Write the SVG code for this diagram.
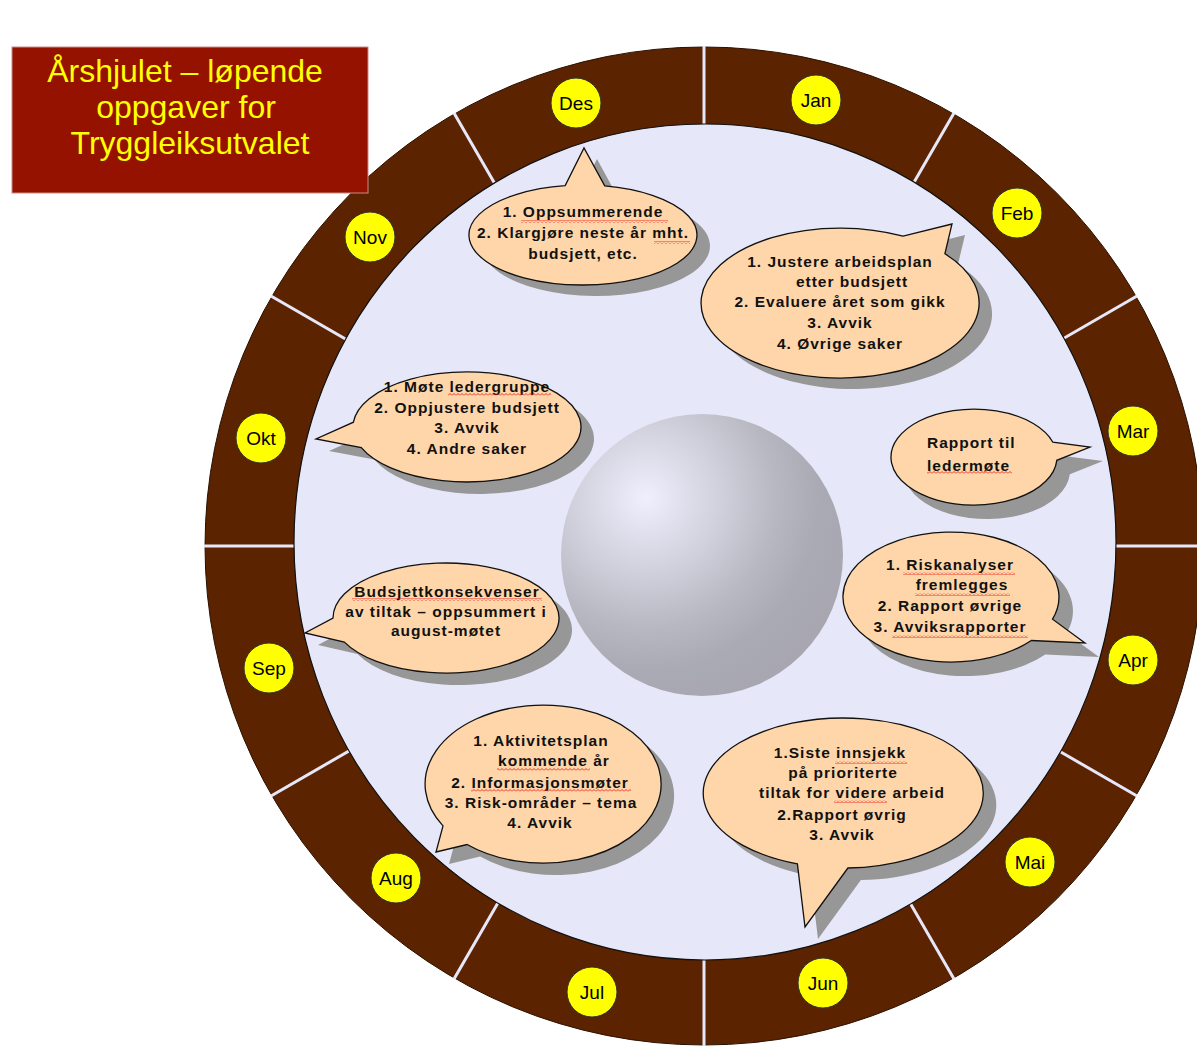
<svg xmlns="http://www.w3.org/2000/svg" width="1197" height="1055" viewBox="0 0 1197 1055">
<style>
.bub{fill:#FFD6A9;stroke:#111;stroke-width:1.3}
.shd{fill:#979797}
.bt{font-family:"Liberation Sans",Arial,sans-serif;font-weight:bold;font-size:15.5px;letter-spacing:1px;fill:#111;text-anchor:middle}
.mc{fill:#FFFF00;stroke:#333;stroke-width:1}
.mt{font-family:"Liberation Sans",Arial,sans-serif;font-size:19px;fill:#000;text-anchor:middle}
.tt{font-family:"Liberation Sans",Arial,sans-serif;font-size:32px;fill:#FFFF00;text-anchor:middle}
.div{stroke:#E6E8FA;stroke-width:3}
.sq{fill:url(#wave)}
</style>
<defs>
<pattern id="wave" width="4" height="3" patternUnits="userSpaceOnUse">
<path d="M0 2.5 L2 0.5 L4 2.5" fill="none" stroke="#E8231A" stroke-width="0.9"/>
</pattern>
<radialGradient id="sph" gradientUnits="userSpaceOnUse" cx="646" cy="498" fx="646" fy="498" r="215">
<stop offset="0" stop-color="#EFEFFD"/>
<stop offset="0.12" stop-color="#E4E4F2"/>
<stop offset="0.35" stop-color="#D0D0DC"/>
<stop offset="0.6" stop-color="#B8B8C3"/>
<stop offset="0.8" stop-color="#AAAAB4"/>
<stop offset="1" stop-color="#A8A7B1"/>
</radialGradient>
<path id="pDes" d="M604.75 185.92 A114 50 0 1 1 565.17 185.61 L584 148 Z"/>
<path id="pFeb" d="M944.9 253.8 A139 75 0 1 1 903.1 236.2 L952 224 Z"/>
<path id="pOkt" d="M353.4 422.2 A114 55 0 1 1 361.3 447.6 L316 439 Z"/>
<path id="pMar" d="M1056.8 460.3 A83 48 0 1 1 1052.9 442.2 L1090 447 Z"/>
<path id="pApr" d="M1031.3 640.5 A108 65 0 1 1 1052.5 619.2 L1085 643 Z"/>
<path id="pSep" d="M333 618 A113 55 0 1 1 344.4 642.1 L305 633 Z"/>
<path id="pAug" d="M443 825.9 A118 79 0 1 1 467.1 844.5 L436 852 Z"/>
<path id="pJun" d="M797.4 863.9 A140 75 0 1 1 847.9 868 L805 927 Z"/>
</defs>

<g id="wheel">
<circle cx="704" cy="546" r="499" fill="#5C2300" stroke="#2a1000" stroke-width="1"/>
<g id="dividers">
<line class="div" x1="704" y1="546" x2="704" y2="46"/>
<line class="div" x1="704" y1="546" x2="954" y2="113"/>
<line class="div" x1="704" y1="546" x2="1137" y2="296"/>
<line class="div" x1="704" y1="546" x2="1204" y2="546"/>
<line class="div" x1="704" y1="546" x2="1137" y2="796"/>
<line class="div" x1="704" y1="546" x2="954" y2="979"/>
<line class="div" x1="704" y1="546" x2="704" y2="1046"/>
<line class="div" x1="704" y1="546" x2="454" y2="979"/>
<line class="div" x1="704" y1="546" x2="271" y2="796"/>
<line class="div" x1="704" y1="546" x2="204" y2="546"/>
<line class="div" x1="704" y1="546" x2="271" y2="296"/>
<line class="div" x1="704" y1="546" x2="454" y2="113"/>
</g>
<ellipse cx="705" cy="542" rx="411" ry="418" fill="#E6E8FA" stroke="#111" stroke-width="1.2"/>
</g>

<g id="title">
<rect x="12" y="47" width="356" height="146" fill="#951200" stroke="#c98c86" stroke-width="1"/>
<text class="tt" x="185" y="82">Årshjulet – løpende</text>
<text class="tt" x="186" y="118">oppgaver for</text>
<text class="tt" x="190" y="154">Tryggleiksutvalet</text>
</g>

<g id="sphere">
<circle cx="702" cy="555" r="141" fill="url(#sph)"/>
</g>

<g id="months">
<g id="m-jan"><circle class="mc" cx="816" cy="100" r="25"/><text class="mt" x="816" y="107">Jan</text></g>
<g id="m-feb"><circle class="mc" cx="1017" cy="213" r="25"/><text class="mt" x="1017" y="220">Feb</text></g>
<g id="m-mar"><circle class="mc" cx="1133" cy="431" r="25"/><text class="mt" x="1133" y="438">Mar</text></g>
<g id="m-apr"><circle class="mc" cx="1133" cy="660" r="25"/><text class="mt" x="1133" y="667">Apr</text></g>
<g id="m-mai"><circle class="mc" cx="1030" cy="862" r="25"/><text class="mt" x="1030" y="869">Mai</text></g>
<g id="m-jun"><circle class="mc" cx="823" cy="983" r="25"/><text class="mt" x="823" y="990">Jun</text></g>
<g id="m-jul"><circle class="mc" cx="592" cy="992" r="25"/><text class="mt" x="592" y="999">Jul</text></g>
<g id="m-aug"><circle class="mc" cx="396" cy="878" r="25"/><text class="mt" x="396" y="885">Aug</text></g>
<g id="m-sep"><circle class="mc" cx="269" cy="668" r="25"/><text class="mt" x="269" y="675">Sep</text></g>
<g id="m-okt"><circle class="mc" cx="261" cy="438" r="25"/><text class="mt" x="261" y="445">Okt</text></g>
<g id="m-nov"><circle class="mc" cx="370" cy="237" r="25"/><text class="mt" x="370" y="244">Nov</text></g>
<g id="m-des"><circle class="mc" cx="576" cy="103" r="25"/><text class="mt" x="576" y="110">Des</text></g>
</g>

<g id="shadows">
<use href="#pDes" class="shd" transform="translate(13,11)"/>
<use href="#pFeb" class="shd" transform="translate(13,11)"/>
<use href="#pOkt" class="shd" transform="translate(13,12)"/>
<use href="#pMar" class="shd" transform="translate(13,14)"/>
<use href="#pApr" class="shd" transform="translate(14,14)"/>
<use href="#pSep" class="shd" transform="translate(13,12)"/>
<use href="#pAug" class="shd" transform="translate(13,12)"/>
<use href="#pJun" class="shd" transform="translate(13,12)"/>
</g>

<g id="bubble-des">
<use href="#pDes" class="bub"/>
<text class="bt" x="583" y="217">1. Oppsummerende</text>
<text class="bt" x="583" y="238">2. Klargjøre neste år mht.</text>
<text class="bt" x="583" y="259">budsjett, etc.</text>
<rect class="sq" x="521" y="220" width="147" height="3"/>
<rect class="sq" x="654" y="241" width="36" height="3"/>
</g>

<g id="bubble-feb">
<use href="#pFeb" class="bub"/>
<text class="bt" x="840" y="267">1. Justere arbeidsplan</text>
<text class="bt" x="852" y="287">etter budsjett</text>
<text class="bt" x="840" y="307">2. Evaluere året som gikk</text>
<text class="bt" x="840" y="328">3. Avvik</text>
<text class="bt" x="840" y="349">4. Øvrige saker</text>
</g>

<g id="bubble-okt">
<use href="#pOkt" class="bub"/>
<text class="bt" x="467" y="392">1. Møte ledergruppe</text>
<text class="bt" x="467" y="413">2. Oppjustere budsjett</text>
<text class="bt" x="467" y="433">3. Avvik</text>
<text class="bt" x="467" y="454">4. Andre saker</text>
<rect class="sq" x="448" y="393" width="103" height="3"/>
</g>

<g id="bubble-mar">
<use href="#pMar" class="bub"/>
<text class="bt" x="927" y="448" style="text-anchor:start">Rapport til</text>
<text class="bt" x="927" y="471" style="text-anchor:start">ledermøte</text>
<rect class="sq" x="927" y="471" width="85" height="3"/>
</g>

<g id="bubble-apr">
<use href="#pApr" class="bub"/>
<text class="bt" x="950" y="570">1. Riskanalyser</text>
<text class="bt" x="962" y="590">fremlegges</text>
<text class="bt" x="950" y="611">2. Rapport øvrige</text>
<text class="bt" x="950" y="632">3. Avviksrapporter</text>
<rect class="sq" x="903" y="572" width="112" height="3"/>
<rect class="sq" x="915" y="593" width="95" height="3"/>
<rect class="sq" x="892" y="635" width="136" height="3"/>
</g>

<g id="bubble-sep">
<use href="#pSep" class="bub"/>
<text class="bt" x="447" y="597">Budsjettkonsekvenser</text>
<text class="bt" x="446" y="617">av tiltak – oppsummert i</text>
<text class="bt" x="446" y="636">august-møtet</text>
<rect class="sq" x="352" y="598" width="190" height="3"/>
</g>

<g id="bubble-aug">
<use href="#pAug" class="bub"/>
<text class="bt" x="541" y="746">1. Aktivitetsplan</text>
<text class="bt" x="554" y="766">kommende år</text>
<text class="bt" x="540" y="788">2. Informasjonsmøter</text>
<text class="bt" x="541" y="808">3. Risk-områder – tema</text>
<text class="bt" x="540" y="828">4. Avvik</text>
<rect class="sq" x="497" y="768" width="93" height="3"/>
<rect class="sq" x="471" y="789" width="160" height="3"/>
</g>

<g id="bubble-jun">
<use href="#pJun" class="bub"/>
<text class="bt" x="840" y="758">1.Siste innsjekk</text>
<text class="bt" x="843" y="778">på prioriterte</text>
<text class="bt" x="852" y="798">tiltak for videre arbeid</text>
<text class="bt" x="842" y="820">2.Rapport øvrig</text>
<text class="bt" x="842" y="840">3. Avvik</text>
<rect class="sq" x="835" y="761" width="72" height="3"/>
<rect class="sq" x="834" y="800" width="53" height="3"/>
</g>

<g id="connectors"></g>
</svg>
